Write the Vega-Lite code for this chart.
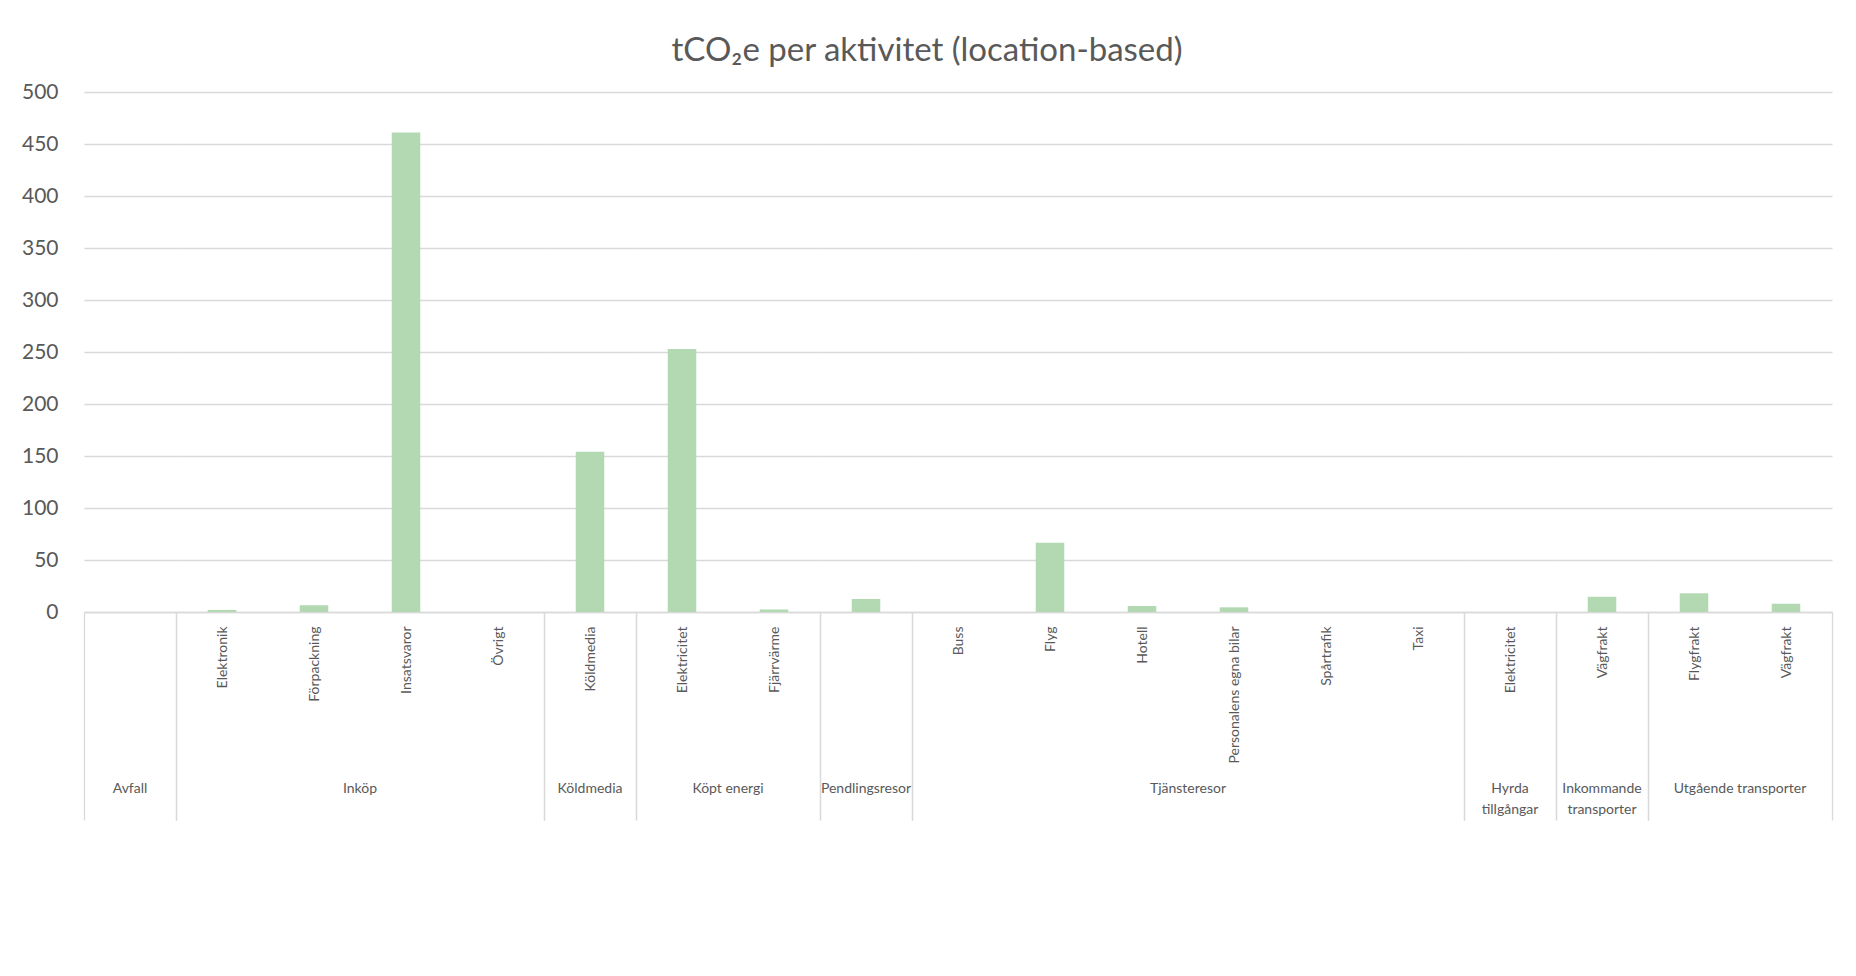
{
  "$schema": "https://vega.github.io/schema/vega-lite/v6.json",
  "background": "white",
  "padding": {"left": 21, "top": 35, "right": 24, "bottom": 10},
  "title": {
    "text": "tCO₂e per aktivitet (location-based)",
    "font": "Lato",
    "fontSize": 33,
    "fontWeight": "normal",
    "color": "#595959",
    "anchor": "middle",
    "frame": "bounds",
    "offset": 13
  },
  "data": {
    "values": [
      {"grp": "Avfall", "key": "Avfall|", "value": 0},
      {"grp": "Inköp", "key": "Inköp|Elektronik", "value": 2},
      {"grp": "Inköp", "key": "Inköp|Förpackning", "value": 6.5},
      {"grp": "Inköp", "key": "Inköp|Insatsvaror", "value": 461},
      {"grp": "Inköp", "key": "Inköp|Övrigt", "value": 0},
      {"grp": "Köldmedia", "key": "Köldmedia|Köldmedia", "value": 154},
      {"grp": "Köpt energi", "key": "Köpt energi|Elektricitet", "value": 253},
      {"grp": "Köpt energi", "key": "Köpt energi|Fjärrvärme", "value": 2.5},
      {"grp": "Pendlingsresor", "key": "Pendlingsresor|", "value": 12.5},
      {"grp": "Tjänsteresor", "key": "Tjänsteresor|Buss", "value": 0},
      {"grp": "Tjänsteresor", "key": "Tjänsteresor|Flyg", "value": 66.5},
      {"grp": "Tjänsteresor", "key": "Tjänsteresor|Hotell", "value": 5.8},
      {"grp": "Tjänsteresor", "key": "Tjänsteresor|Personalens egna bilar", "value": 4.5},
      {"grp": "Tjänsteresor", "key": "Tjänsteresor|Spårtrafik", "value": 0},
      {"grp": "Tjänsteresor", "key": "Tjänsteresor|Taxi", "value": 0},
      {"grp": "Hyrda tillgångar", "key": "Hyrda tillgångar|Elektricitet", "value": 0},
      {"grp": "Inkommande transporter", "key": "Inkommande transporter|Vägfrakt", "value": 14.7},
      {"grp": "Utgående transporter", "key": "Utgående transporter|Flygfrakt", "value": 18},
      {"grp": "Utgående transporter", "key": "Utgående transporter|Vägfrakt", "value": 8}
    ]
  },
  "facet": {
    "column": {
      "field": "grp",
      "type": "nominal",
      "sort": ["Avfall", "Inköp", "Köldmedia", "Köpt energi", "Pendlingsresor", "Tjänsteresor", "Hyrda tillgångar", "Inkommande transporter", "Utgående transporter"],
      "header": {
        "title": null,
        "labelOrient": "bottom",
        "labelPadding": 170,
        "labelBaseline": "top",
        "labelFont": "Lato",
        "labelFontSize": 14,
        "labelColor": "#595959",
        "labelLineHeight": 21,
        "labelExpr": "(datum.value == 'Hyrda tillgångar' || datum.value == 'Inkommande transporter') ? split(datum.value, ' ') : datum.value"
      }
    }
  },
  "spacing": 0,
  "bounds": "flush",
  "resolve": {"scale": {"x": "independent"}},
  "spec": {
    "width": {"step": 92},
    "height": 520,
    "mark": {"type": "bar", "width": {"band": 0.31}, "color": "#b3d9b3"},
    "encoding": {
      "x": {
        "field": "key",
        "type": "nominal",
        "sort": null,
        "scale": {"paddingInner": 0, "paddingOuter": 0},
        "axis": {
          "title": null,
          "labelAngle": -90,
          "labelExpr": "split(datum.label, '|')[1]",
          "labelFont": "Lato",
          "labelFontSize": 14,
          "labelColor": "#595959",
          "labelPadding": -194,
          "labelOverlap": false,
          "labelLimit": 0,
          "domainColor": "#d9d9d9",
          "domainWidth": 1.3,
          "ticks": true,
          "tickBand": "extent",
          "tickSize": 208,
          "tickColor": "#d9d9d9",
          "tickWidth": 1.3,
          "tickOpacity": {
            "condition": {
              "test": "!isValid(datum.value) || indexof(['Avfall|', 'Inköp|Övrigt', 'Köldmedia|Köldmedia', 'Köpt energi|Fjärrvärme', 'Pendlingsresor|', 'Tjänsteresor|Taxi', 'Hyrda tillgångar|Elektricitet', 'Inkommande transporter|Vägfrakt', 'Utgående transporter|Vägfrakt'], datum.value) >= 0",
              "value": 1
            },
            "value": 0
          },
          "grid": false
        }
      },
      "y": {
        "field": "value",
        "type": "quantitative",
        "scale": {"domain": [0, 500], "nice": false},
        "axis": {
          "title": null,
          "values": [0, 50, 100, 150, 200, 250, 300, 350, 400, 450, 500],
          "domain": false,
          "ticks": false,
          "labelPadding": 26,
          "labelFont": "Lato",
          "labelFontSize": 21,
          "labelColor": "#595959",
          "gridColor": "#d9d9d9",
          "gridWidth": 1.3
        }
      }
    }
  },
  "config": {"view": {"stroke": null}, "font": "Lato"}
}
